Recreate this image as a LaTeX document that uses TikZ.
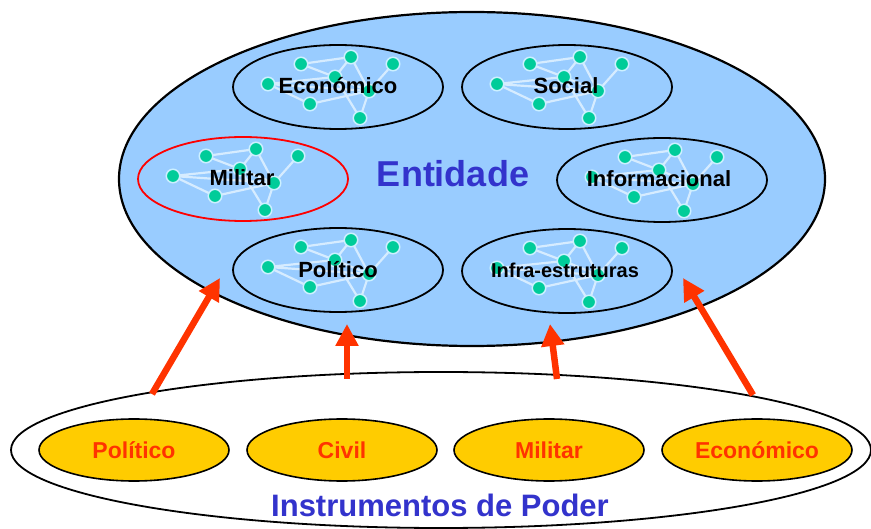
\documentclass[tikz,border=0pt]{standalone}
\usepackage{fontspec}
\setmainfont{Liberation Sans}
\usetikzlibrary{arrows.meta,shapes.geometric}
\definecolor{skyb}{RGB}{153,204,255}
\definecolor{txtblue}{RGB}{51,51,204}
\definecolor{orred}{RGB}{255,51,0}
\definecolor{goldy}{RGB}{255,204,0}
\definecolor{tealdot}{RGB}{0,204,153}
\definecolor{halo}{RGB}{204,240,255}
\definecolor{linkc}{RGB}{214,236,255}
\tikzset{
  dot/.style={circle, fill=tealdot, draw=halo, line width=1.5pt, minimum size=13.5pt, inner sep=0pt},
  link/.style={draw=linkc, line width=2.2pt},
  subell/.style={ellipse, draw=black, line width=1.8pt, minimum width=210pt, minimum height=84pt, inner sep=0pt},
  sublabel/.style={font=\fontsize{22}{26}\selectfont\bfseries, text=black, inner sep=0pt},
  instr/.style={ellipse, draw=black, fill=goldy, line width=1.6pt, minimum width=190pt, minimum height=62pt, inner sep=0pt,
     font=\fontsize{23}{27}\selectfont\bfseries, text=orred},
  bigarrow/.style={draw=orred, line width=6.5pt, -{Triangle[length=22pt,width=22pt]}}
}
\newcommand\netdraw{%
  \coordinate (a) at (-37,-23);
  \coordinate (b) at (13,-30);
  \coordinate (c) at (55,-23);
  \coordinate (d) at (-70,-3);
  \coordinate (e) at (-3,-10);
  \coordinate (f) at (31,4);
  \coordinate (g) at (-28,17);
  \coordinate (h) at (22,31);
  \draw[link] (a)--(b) (a)--(e) (e)--(f) (b)--(e) (b)--(f) (c)--(f)
              (d)--(e) (d)--(f) (d)--(g) (g)--(f) (e)--(h) (f)--(h);
  \foreach \p in {a,b,c,d,e,f,g,h} {\node[dot] (n\p) at (\p) {};}
}
\begin{document}
\begin{tikzpicture}[x=1pt,y=-1pt]
\useasboundingbox (0,0) rectangle (871,529);
% lower ellipse
\node[ellipse, draw=black, fill=white, line width=1.8pt, minimum width=860pt, minimum height=156pt, inner sep=0pt] (pow) at (441,450) {};
\node[instr] (ip) at (134,450) {Político};
\node[instr] (ic) at (342,450) {Civil};
\node[instr] (im) at (549,450) {Militar};
\node[instr] (ie) at (757,450) {Económico};
\node[font=\fontsize{31}{36}\selectfont\bfseries, text=txtblue, inner sep=0pt] (ilab) at (440,505) {Instrumentos de Poder};
% big ellipse
\node[ellipse, draw=black, fill=skyb, line width=2.2pt, minimum width=706pt, minimum height=334pt, inner sep=0pt] (ent) at (472,179) {};
\node[font=\fontsize{36}{41}\selectfont\bfseries, text=txtblue, inner sep=0pt] (entlab) at (453,174) {Entidade};
% sub ellipses
\node[subell] (seco) at (338,87) {};
\node[subell] (ssoc) at (567,87) {};
\node[subell, draw=red] (smil) at (243,179) {};
\node[subell] (sinf) at (662,180) {};
\node[subell] (spol) at (338,270) {};
\node[subell] (sinfra) at (567,271) {};
\begin{scope}[shift={(338,87)}, name prefix=eco-]\netdraw\end{scope}
\begin{scope}[shift={(567,87)}, name prefix=soc-]\netdraw\end{scope}
\begin{scope}[shift={(243,179)}, name prefix=mil-]\netdraw\end{scope}
\begin{scope}[shift={(662,180)}, name prefix=inf-]\netdraw\end{scope}
\begin{scope}[shift={(338,270)}, name prefix=pol-]\netdraw\end{scope}
\begin{scope}[shift={(567,271)}, name prefix=ifr-]\netdraw\end{scope}
\node[sublabel] (leco) at (338,86) {Económico};
\node[sublabel] (lsoc) at (566,86) {Social};
\node[sublabel] (lmil) at (242,178) {Militar};
\node[sublabel] (linf) at (659,179) {Informacional};
\node[sublabel] (lpol) at (338,270) {Político};
\node[sublabel, font=\fontsize{20}{24}\selectfont\bfseries] (lifr) at (565,270) {Infra-estruturas};
% arrows
\coordinate (t1) at (152,394);
\coordinate (h1) at (220,278);
\coordinate (t2) at (347,379);
\coordinate (h2) at (347,324);
\coordinate (t3) at (557,379);
\coordinate (h3) at (550,324);
\coordinate (t4) at (753,395);
\coordinate (h4) at (683,278);
\draw[bigarrow] (t1) -- (h1);
\draw[bigarrow] (t2) -- (h2);
\draw[bigarrow] (t3) -- (h3);
\draw[bigarrow] (t4) -- (h4);
\end{tikzpicture}
\end{document}
